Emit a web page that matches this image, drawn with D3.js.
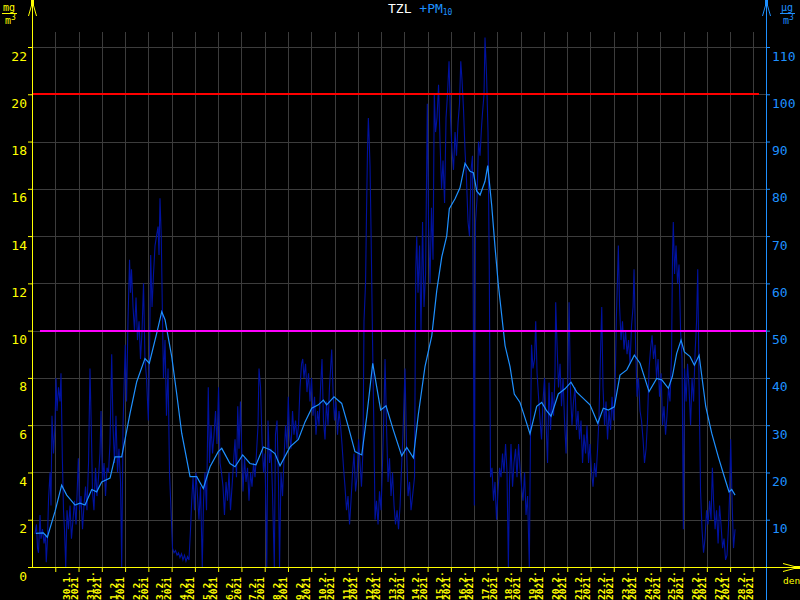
<!DOCTYPE html>
<html><head><meta charset="utf-8">
<script src="https://cdn.jsdelivr.net/npm/d3@7"></script>
<style>html,body{margin:0;padding:0;background:#000;}svg{display:block;}</style>
</head><body>
<svg id="c" width="800" height="600"></svg>
<script>
// ---------- data ----------
const startDate = new Date(2021, 0, 29, 0, 0);
const endDate = new Date(2021, 2, 1, 13, 0);
const leftTicks = [0, 2, 4, 6, 8, 10, 12, 14, 16, 18, 20, 22];
const rightTicks = [10, 20, 30, 40, 50, 60, 70, 80, 90, 100, 110];
const yearLabel = "2021";
const titleMain = "TZL";
const titleSeries = "+PM";
const titleSub = "10";
const limitHigh = 100; // µg/m3 (20 on left axis)
const limitLow = 50;   // µg/m3 (10 on left axis)

// hourly PM10 (hours after 29.1.2021 00:00, µg/m3)
const pm10Hours = [
3.1,4.6,5.7,6.7,8.3,9.3,10.8,12.4,13.9,14.7,
16.0,17.0,18.6,19.6,20.6,22.2,23.7,24.8,25.8,27.3,
28.9,29.9,31.3,32.5,33.5,34.8,36.1,37.6,39.2,40.7,
42.3,43.8,45.4,47.8,49.0,50.5,52.1,53.6,55.2,56.7,
58.3,59.8,61.1,62.4,63.9,65.5,67.0,68.6,70.1,71.2,
72.7,74.3,75.8,77.4,78.9,80.4,82.2,83.5,85.1,86.6,
88.2,89.7,91.3,92.5,93.9,95.2,96.2,97.5,99.0,100.6,
101.6,102.6,104.2,105.7,107.3,108.8,110.4,111.9,113.5,115.0,
116.5,118.1,120.0,121.2,122.4,123.8,125.3,126.9,128.4,130.0,
131.0,132.0,133.3,134.4,135.6,137.2,138.7,140.3,141.8,143.4,
144.9,146.5,148.0,149.6,151.1,152.6,154.2,155.7,157.3,158.8,
160.4,161.9,163.5,164.7,166.1,167.6,169.1,170.7,172.2,173.8,
175.6,176.9,178.4,180.0,181.8,183.1,184.6,186.2,187.7,189.3,
190.8,192.4,193.9,195.4,197.0,198.5,200.1,201.6,203.2,204.7,
206.3,207.8,209.4,210.9,212.2,213.5,215.0,216.6,217.6,219.2,
220.7,222.3,223.8,225.4,226.9,228.5,230.0,231.5,233.1,234.1,
235.7,237.2,238.8,240.3,242.1,243.4,245.0,246.5,248.0,249.9,
251.1,252.7,254.2,255.3,256.8,258.4,259.9,261.5,263.0,264.3,
265.6,267.1,268.7,270.2,271.8,273.3,274.9,276.4,278.0,279.2,
280.5,282.1,283.6,285.2,286.7,288.3,289.8,291.4,292.9,294.5,
296.0,297.6,299.1,300.6,302.2,303.7,305.3,306.8,309.1,310.5,
312.0,313.5,315.1,316.6,318.2,319.7,321.3,322.8,324.4,325.9,
327.5,329.0,330.6,332.1,333.7,335.2,336.8,338.3,339.8,341.4,
342.4,344.0,345.0,346.0,346.9,347.8,348.6,349.6,351.2,352.7,
353.8,355.3,356.9,358.4,360.0,361.5,363.1,364.1,365.6,367.2,
368.7,370.3,371.8,373.4,374.9,376.5,378.0,379.6,381.1,382.6,
384.7,386.3,387.8,389.4,390.9,393.0,394.5,395.8,396.8,398.1,
399.7,401.2,402.8,404.3,405.9,407.7,409.0,410.5,412.0,413.6,
414.9,416.2,417.7,419.3,420.8,422.4,423.9,425.5,427.0,428.5,
430.1,431.6,433.2,434.7,436.3,437.8,439.4,440.9,442.2,443.5,
445.0,446.6,448.1,449.7,451.2,452.8,454.3,456.2,457.4,459.0,
460.5,462.1,463.6,464.6,466.2,467.2,468.8,470.3,471.6,472.9,
474.4,476.0,477.5,479.1,480.6,482.2,483.7,485.3,486.8,488.4,
489.9,491.3,492.5,494.0,495.6,497.1,498.7,500.2,501.8,503.3,
504.9,506.4,508.0,509.5,511.1,512.9,514.2,515.2,516.7,518.3,
519.5,520.9,522.4,524.0,525.5,527.0,528.6,530.1,531.7,533.2,
534.8,536.3,537.9,539.4,540.1,541.5,543.0,544.6,546.1,547.7,
549.2,550.8,552.3,553.9,555.4,556.9,558.5,560.0,561.6,563.1,
564.7,566.2,567.8,569.3,570.9,572.4,574.0,575.5,577.1,578.6,
580.2,581.7,583.3,584.8,586.3,587.6,588.9,590.5,592.0,593.6,
595.1,596.7,598.2,599.8,601.3,602.7,603.7,604.7,606.0,607.5,
609.0,610.6,612.1,613.7,615.2,616.8,618.3,619.9,620.9,622.5,
624.0,625.5,627.1,628.6,630.2,631.7,633.3,634.8,636.4,637.9,
639.5,641.0,642.6,644.1,645.7,647.2,648.8,650.3,651.8,653.4,
654.9,656.5,658.0,659.6,660.6,661.4,662.7,664.2,665.8,667.3,
668.9,670.4,671.8,673.0,674.6,676.1,677.6,679.2,680.7,682.3,
683.8,685.4,686.6,687.9,689.5,691.0,692.6,694.1,695.7,697.2,
698.8,700.3,701.7,702.9,704.5,706.0,707.6,709.1,710.6,712.2,
713.7,715.3,716.8,718.4,719.4,720.6,722.0,723.5,725.1
];
const pm10Values = [
7,9,4,3,11,6,8,5,7,1,
6,14,20,13,32,24,30,40,33,38,
35,41,23,12,8,0,12,8,13,6,
10,14,9,23,12,15,8,13,17,12,
22,42,30,16,12,21,15,19,24,33,
18,22,15,21,20,26,45,30,22,32,
20,25,18,0,30,40,47,35,52,65,
58,63,55,50,57,48,52,44,50,60,
44,40,31,45,66,55,62,68,70,72,
66,78,70,55,40,48,32,42,20,12,
4,3,3.5,2.5,3,2,2.8,1.5,2.5,1.2,
2.2,1.5,8,14,19,12,20,15,10,17,
0,14,20,12,38,22,30,24,28,33,
26,38,22,20,17,11,18,14,20,12,
17,22,27,19,34,25,35,22,16,23,
18,21,14,20,17,22,19,24,30,42,
38,27,20,24,0,31,22,25,16,0,
28,31,18,0,20,15,23,30,25,36,
28,25,33,28,31,27,30,38,43,44,
40,43,37,41,35,40,32,36,28,33,
30,38,44,31,27,35,30,38,46,37,
31,35,28,33,30,26,21,17,12,15,
9,14,20,24,16,19,27,22,17,25,
52,60,75,88,95,90,85,72,48,28,
10,14,9,16,12,22,34,44,30,18,
23,15,20,13,9,12,8,13,21,28,
42,25,15,18,12,16,19,63,70,58,
68,50,73,55,62,98,72,60,76,65,
100,92,95,102,90,80,86,77,95,100,
107,95,88,84,92,87,94,98,107,103,
97,88,82,73,70,84,87,13,73,78,
90,87,93,96,100,112,104,92,63,19,
21,14,18,10,16,21,19,24,20,26,
20,0,18,26,17,22,25,19,26,21,
17,14,20,11,15,0,30,47,42,44,
52,41,36,31,27,35,40,31,22,39,
29,37,32,41,56,47,38,43,34,40,
31,24,36,56,37,30,35,38,29,33,
27,31,22,28,24,30,22,26,20,17,
22,19,25,32,45,55,38,30,35,27,
33,29,36,31,37,53,60,68,55,48,
52,46,50,45,48,43,51,55,63,47,
36,40,33,31,27,22,25,31,42,46,
49,44,47,40,44,36,41,30,34,28,
32,38,35,45,66,73,62,68,60,64,
50,44,8,42,35,43,38,30,40,35,
45,52,63,40,16,8,3,6,12,9,
14,10,21,14,8,12,5,13,9,4,
6,1.5,2.5,9,15,27,14,4,8
];
// 24h running average PM10 (µg/m3)
const avgHours = [
4.1,11.7,15.8,23.7,30.6,35.8,44.4,49.5,54.7,61.6,
66.7,71.9,80.5,85.6,92.5,101.1,108.0,116.5,121.0,128.6,
133.8,137.2,144.1,149.2,154.4,163.0,169.9,176.7,183.6,192.1,
195.7,204.2,209.4,217.3,224.8,231.0,238.6,245.5,250.6,255.8,
266.1,274.7,281.6,288.5,295.3,300.5,303.9,311.5,319.4,326.2,
333.1,340.1,345.2,351.4,355.5,359.6,365.1,372.6,381.3,386.5,
393.3,398.4,405.3,412.3,417.4,422.6,427.7,430.4,436.3,441.4,
446.6,451.7,455.2,458.7,462.1,467.2,470.0,474.1,477.5,480.9,
484.4,487.9,493.0,497.4,503.3,508.5,513.6,520.5,525.7,530.9,
535.3,542.8,549.7,555.9,561.8,566.9,575.5,583.5,589.2,594.4,
600.6,606.4,613.4,621.2,627.1,636.4,644.3,649.5,656.3,660.4,
664.9,669.4,672.8,678.7,683.1,688.0,694.9,701.0,707.8,714.0,
718.9,721.6,725.1
];
const avgValues = [
7.1,7.2,6.3,11.7,17.3,15.2,13.1,13.5,13.1,16.4,
15.9,18.0,18.8,23.3,23.3,32.5,39.2,44.1,43.1,49.4,
54.0,52.3,44.5,36.7,28.3,19.1,19.1,16.6,21.2,24.4,
25.1,21.9,21.2,23.7,21.9,21.6,25.4,24.8,24.0,21.4,
25.4,27.0,30.7,33.6,34.3,35.3,34.3,36.0,34.6,29.7,
24.4,23.7,31.8,43.1,38.1,33.2,34.1,29.0,23.5,25.3,
23.1,32.2,42.4,48.9,58.4,65.6,70.0,75.8,77.9,80.2,
85.4,83.7,83.4,79.5,78.7,81.6,84.9,76.5,67.8,59.8,
53.3,46.8,42.4,36.6,34.8,31.5,28.2,34.0,34.8,33.0,
31.9,36.6,37.7,39.1,37.0,36.0,34.3,30.4,33.6,33.2,
33.9,40.6,41.7,44.8,43.1,37.1,39.9,39.6,37.8,40.3,
45.2,48.0,45.5,44.5,42.7,44.8,33.9,28.3,23.3,19.1,
15.9,16.4,15.2
];

// ---------- drawing ----------
const YEL = "#ffff00", BLUE = "#1e90ff", RAW = "#0012a0", GRID = "#3c3c3c";
const FONT = "DejaVu Sans Mono";
const svg = d3.select("#c");
svg.append("rect").attr("width", 800).attr("height", 600).attr("fill", "#000");

const x = d3.scaleTime().domain([startDate, endDate]).range([32, 766]);
const yL = d3.scaleLinear().domain([0, 22]).range([567, 47]);
const yR = d3.scaleLinear().domain([0, 110]).range([567, 47]);
const hourDate = h => new Date(startDate.getTime() + h * 3600e3);

const dayTicks = d3.timeDay.range(new Date(2021, 0, 30), new Date(2021, 2, 2));
const dayLabels = d3.timeDay.range(new Date(2021, 0, 30), new Date(2021, 2, 1));

// grid
const grid = svg.append("g").attr("shape-rendering", "crispEdges").attr("stroke", GRID).attr("stroke-width", 1);
grid.selectAll("line.v").data(dayTicks).join("line").attr("class", "v")
  .attr("x1", d => Math.round(x(d)) + 0.5).attr("x2", d => Math.round(x(d)) + 0.5)
  .attr("y1", 32).attr("y2", 567);
grid.selectAll("line.h").data(leftTicks.filter(v => v > 0)).join("line").attr("class", "h")
  .attr("x1", 32).attr("x2", 766)
  .attr("y1", d => Math.round(yL(d)) + 0.5).attr("y2", d => Math.round(yL(d)) + 0.5);

// series
const rawData = pm10Hours.map((h, i) => [hourDate(h), pm10Values[i]]);
const avgData = avgHours.map((h, i) => [hourDate(h), avgValues[i]]);
const line = d3.line().x(d => x(d[0])).y(d => yR(d[1]));
svg.append("path").datum(rawData).attr("d", line).attr("fill", "none")
  .attr("stroke", RAW).attr("stroke-width", 1.1);
svg.append("path").datum(avgData).attr("d", line).attr("fill", "none")
  .attr("stroke", BLUE).attr("stroke-width", 1.2);

// limit lines
svg.append("line").attr("x1", 32).attr("x2", 759)
  .attr("y1", yR(limitHigh)).attr("y2", yR(limitHigh))
  .attr("stroke", "#ff0000").attr("stroke-width", 2).attr("shape-rendering", "crispEdges");
svg.append("line").attr("x1", 40).attr("x2", 766)
  .attr("y1", yR(limitLow)).attr("y2", yR(limitLow))
  .attr("stroke", "#ff00ff").attr("stroke-width", 2).attr("shape-rendering", "crispEdges");

// left axis
const gL = svg.append("g").attr("transform", "translate(32,0)")
  .call(d3.axisLeft(yL).tickValues(leftTicks).tickSize(4).tickSizeOuter(0));
gL.select(".domain").remove();
gL.selectAll("line").attr("stroke", YEL);
gL.selectAll("text").attr("fill", YEL).attr("font-family", FONT).attr("font-size", 13)
  .attr("x", -5).attr("dy", "1em");
svg.append("line").attr("x1", 32.5).attr("x2", 32.5).attr("y1", 1).attr("y2", 568)
  .attr("stroke", YEL).attr("shape-rendering", "crispEdges");
svg.append("path").attr("d", "M28.5,16 L32.5,2 L36.5,16").attr("fill", "none").attr("stroke", YEL);
svg.append("rect").attr("x", 31).attr("y", 0).attr("width", 3).attr("height", 6).attr("fill", YEL);

// right axis
const gR = svg.append("g").attr("transform", "translate(766,0)")
  .call(d3.axisRight(yR).tickValues(rightTicks).tickSize(4).tickSizeOuter(0));
gR.select(".domain").remove();
gR.selectAll("line").attr("stroke", BLUE);
gR.selectAll("text").attr("fill", BLUE).attr("font-family", FONT).attr("font-size", 13)
  .attr("x", 6).attr("dy", "1em");
svg.append("line").attr("x1", 766.5).attr("x2", 766.5).attr("y1", 1).attr("y2", 600)
  .attr("stroke", BLUE).attr("shape-rendering", "crispEdges");
svg.append("path").attr("d", "M762.5,16 L766.5,2 L770.5,16").attr("fill", "none").attr("stroke", BLUE);
svg.append("rect").attr("x", 765).attr("y", 0).attr("width", 3).attr("height", 6).attr("fill", BLUE);

// x axis
const gX = svg.append("g").attr("transform", "translate(0,567)")
  .call(d3.axisBottom(x).tickValues(dayTicks).tickSize(5).tickSizeOuter(0).tickFormat(""));
gX.select(".domain").remove();
gX.selectAll("line").attr("stroke", YEL);
svg.append("line").attr("x1", 32).attr("x2", 799).attr("y1", 567.5).attr("y2", 567.5)
  .attr("stroke", YEL).attr("shape-rendering", "crispEdges");
svg.append("path").attr("d", "M783,563.5 L798,567.5 L783,571.5").attr("fill", "none").attr("stroke", YEL);
svg.append("rect").attr("x", 794).attr("y", 566).attr("width", 6).attr("height", 3).attr("fill", YEL);
svg.append("text").attr("x", 783).attr("y", 584).attr("fill", YEL)
  .attr("font-family", FONT).attr("font-size", 9.5).text("den");

// day labels
const fmtDay = d3.timeFormat("%-d.%-m.");
const dl = svg.append("g").attr("fill", YEL).attr("font-family", FONT)
  .attr("font-size", 9.5).attr("font-weight", "bold");
dayLabels.forEach(d => {
  const xt = x(d);
  dl.append("text").attr("transform", `translate(${xt + 15},600) rotate(-90)`).text(fmtDay(d));
  dl.append("text").attr("transform", `translate(${xt + 22.5},600) rotate(-90)`).text(yearLabel);
});

// unit labels
function unit(x0, top, color) {
  const u = svg.append("g").attr("fill", color).attr("font-family", FONT).attr("font-size", 10);
  u.append("text").attr("x", x0 + 1).attr("y", 10.5).text(top);
  u.append("line").attr("x1", x0).attr("x2", x0 + 15).attr("y1", 13.5).attr("y2", 13.5)
    .attr("stroke", color).attr("shape-rendering", "crispEdges");
  const t = u.append("text").attr("x", x0 + 3).attr("y", 23.5).text("m");
  t.append("tspan").attr("font-size", 8).attr("dy", -4).text("3");
}
unit(2, "mg", YEL);
unit(780, "µg", BLUE);

// title
const title = svg.append("text").attr("x", 388).attr("y", 13)
  .attr("font-family", FONT).attr("font-size", 13).attr("fill", "#ffffff");
title.append("tspan").text(titleMain + " ");
title.append("tspan").attr("fill", BLUE).text(titleSeries);
title.append("tspan").attr("fill", BLUE).attr("font-size", 8).attr("dy", 1.5).text(titleSub);
</script>
</body></html>
